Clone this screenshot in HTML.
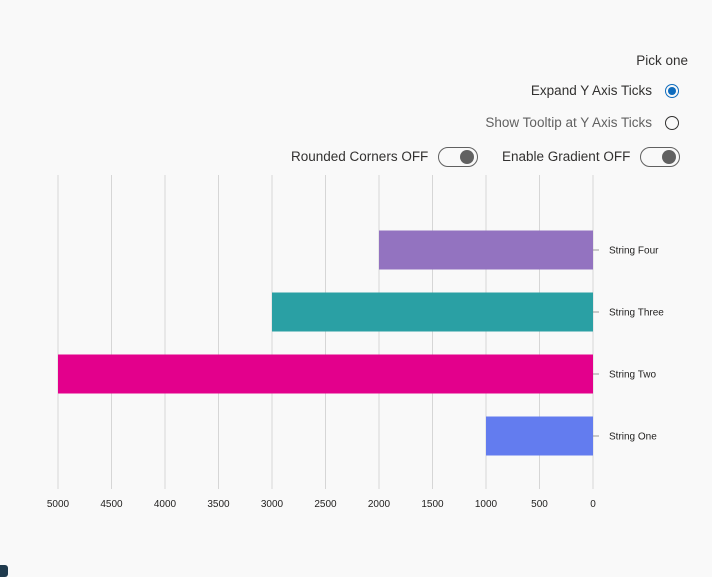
<!DOCTYPE html>
<html><head><meta charset="utf-8"><style>
body{margin:0;width:712px;height:573px;background:#f9f9f9;font-family:"Segoe UI","Liberation Sans",sans-serif;position:relative;overflow:hidden;color:#323130}
.t{position:absolute;font-size:13.5px;white-space:nowrap}
.radio{position:absolute;width:14px;height:14px;border:1px solid #323130;border-radius:50%;box-sizing:border-box}
.radio.on{border-color:#0f6cbd}
.radio.on::after{content:"";position:absolute;left:2px;top:2px;width:8px;height:8px;border-radius:50%;background:#0f6cbd}
.tog{position:absolute;width:40px;height:20px;border:1px solid #616161;border-radius:10px;box-sizing:border-box}
.tog::after{content:"";position:absolute;right:3px;top:2px;width:14px;height:14px;border-radius:50%;background:#616161}
</style></head><body>
<div class="t" style="right:24px;top:53px">Pick one</div>
<div class="t" style="right:60px;top:83px">Expand Y Axis Ticks</div>
<div class="radio on" style="left:665px;top:84px"></div>
<div class="t" style="right:60px;top:115px;color:#616161">Show Tooltip at Y Axis Ticks</div>
<div class="radio" style="left:665px;top:116px"></div>
<div class="t" style="left:291px;top:149px">Rounded Corners OFF</div>
<div class="tog" style="left:438px;top:147px"></div>
<div class="t" style="left:502px;top:149px">Enable Gradient OFF</div>
<div class="tog" style="left:640px;top:147px"></div>
<div style="position:absolute;left:-4px;top:565px;width:12px;height:12px;border-radius:3px;background:#1f3a4d"></div>
<svg id="chart" width="712" height="573" style="position:absolute;left:0;top:0"></svg>
<script>
const categories=["String One","String Two","String Three","String Four"];
const values=[1000,5000,3000,2000];
const colors=["#637cef","#e3008c","#2aa0a4","#9373c0"];
const ticks=[5000,4500,4000,3500,3000,2500,2000,1500,1000,500,0];
const svg=document.getElementById('chart');
const NS='http://www.w3.org/2000/svg';
const x0=593,x1=58,maxV=5000;
const xs=v=>x0-(v/maxV)*(x0-x1);
const bandTop=218,band=62,barH=39;
const ys=i=>bandTop+(categories.length-1-i)*band+(band-barH)/2+1;
function mk(t,a){const e=document.createElementNS(NS,t);for(const k in a)e.setAttribute(k,a[k]);svg.appendChild(e);return e;}
ticks.forEach(v=>{
 const l=mk('line',{x1:xs(v),x2:xs(v),y1:175,y2:489,stroke:'#d6d6d6','stroke-width':1});
 
 
 const t=mk('text',{x:xs(v),y:507,'text-anchor':'middle','font-size':10,fill:'#201f1e','font-family':'Liberation Sans, sans-serif'});
 t.textContent=v;
 
 
});
categories.forEach((c,i)=>{
 const y=ys(i);
 const r=mk('rect',{x:xs(values[i]),y:y,width:x0-xs(values[i]),height:barH,fill:colors[i]});
 
 
 const tk=mk('line',{x1:x0,x2:x0+6,y1:y+barH/2,y2:y+barH/2,stroke:'#999'});
 
 
 const t=mk('text',{x:609,y:y+barH/2+3.5,'font-size':10,fill:'#201f1e','font-family':'Liberation Sans, sans-serif'});
 t.textContent=c;
 
 
});
</script>
</body></html>
